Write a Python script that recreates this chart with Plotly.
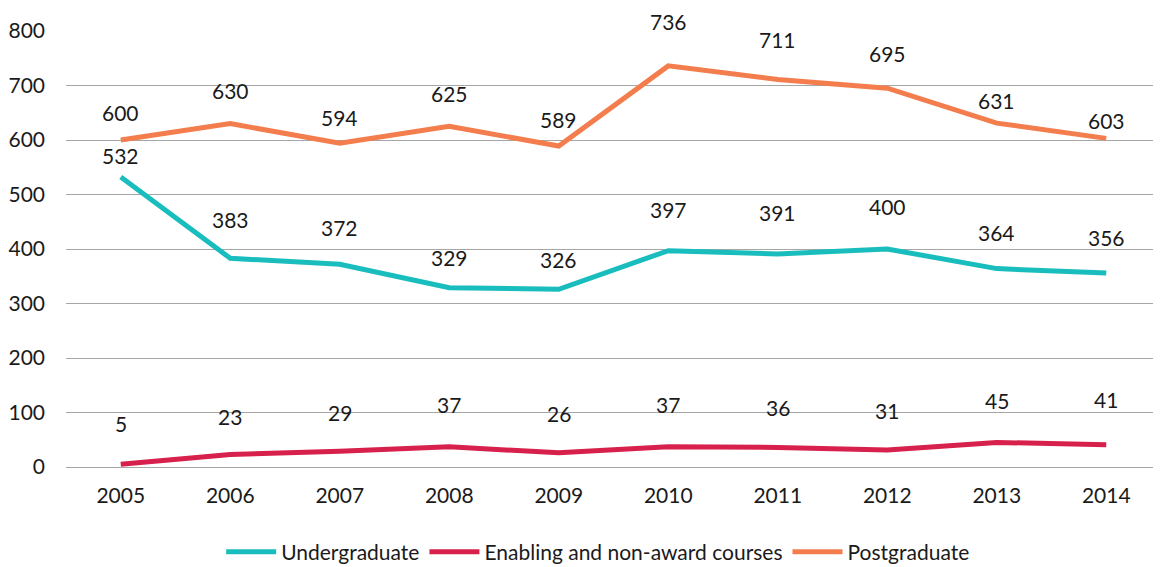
import plotly.graph_objects as go

years = ["2005", "2006", "2007", "2008", "2009", "2010", "2011", "2012", "2013", "2014"]
undergraduate = [532, 383, 372, 329, 326, 397, 391, 400, 364, 356]
enabling = [5, 23, 29, 37, 26, 37, 36, 31, 45, 41]
postgraduate = [600, 630, 594, 625, 589, 736, 711, 695, 631, 603]

series_names = ["Undergraduate", "Enabling and non-award courses", "Postgraduate"]
series_colors = ["#19BDBD", "#D7204C", "#F47D4E"]

# label vertical offsets (px) above each point, matching the reference placement
ug_shift = [22, 39, 37, 30, 30, 41, 41, 43, 36, 35]
en_shift = [41, 38, 39, 42, 39, 42, 40, 40, 42, 45]
pg_shift = [28, 33, 26, 33, 27, 44, 40, 35, 23, 18]

FONT = "Lato, 'DejaVu Sans', sans-serif"
FS = 21

fig = go.Figure()
all_series = [undergraduate, enabling, postgraduate]
for name, vals, col in zip(series_names, all_series, series_colors):
    fig.add_trace(go.Scatter(
        x=years, y=vals, mode="lines", name=name,
        line=dict(color=col, width=5),
        hoverinfo="x+y",
    ))

annotations = []
for vals, shifts in zip(all_series, [ug_shift, en_shift, pg_shift]):
    for i, (v, s) in enumerate(zip(vals, shifts)):
        annotations.append(dict(
            x=i, y=v, xref="x", yref="y", text=str(v), showarrow=False,
            yshift=s, font=dict(family=FONT, size=FS, color="#1a1a1a"),
        ))

# the page body has an 8px default margin, so the figure is sized to fit the window
fig.update_layout(
    width=1153, height=559,
    margin=dict(l=58, r=0, t=23, b=100, autoexpand=False),
    paper_bgcolor="white", plot_bgcolor="white",
    font=dict(family=FONT, size=FS, color="#1a1a1a"),
    annotations=annotations,
    showlegend=True,
    legend=dict(
        orientation="h", x=0.486, xanchor="center", y=-0.195, yanchor="middle",
        font=dict(family=FONT, size=FS, color="#1a1a1a"),
        itemwidth=50, traceorder="normal",
    ),
    xaxis=dict(
        type="category", categoryarray=years, range=[-0.5, len(years) - 0.5],
        showgrid=False, zeroline=False, showline=False,
        ticks="", tickfont=dict(family=FONT, size=FS, color="#1a1a1a"),
        ticklabelstandoff=14,
    ),
    yaxis=dict(
        range=[0, 800], tick0=0, dtick=100, showgrid=True,
        gridcolor="#A6A6A6", gridwidth=1.2, zeroline=True, zerolinecolor="#A6A6A6",
        zerolinewidth=1.2, showline=False, ticks="",
        tickfont=dict(family=FONT, size=FS, color="#1a1a1a"),
        ticklabelstandoff=20,
    ),
)

fig.write_html("out.html")
